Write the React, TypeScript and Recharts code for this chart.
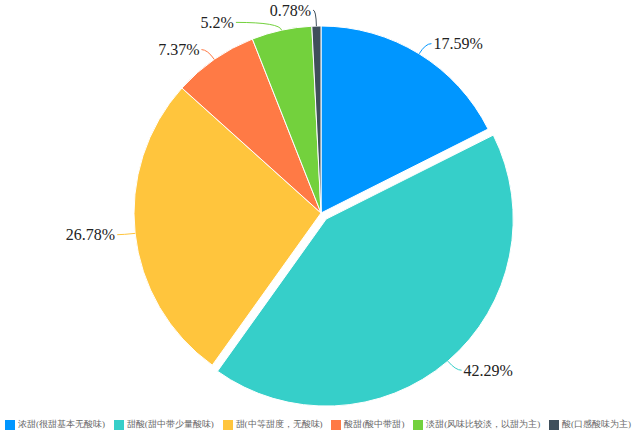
import { Pie, PieChart, Sector, Cell } from 'recharts'

const categories = [
  '浓甜(很甜基本无酸味)',
  '甜酸(甜中带少量酸味)',
  '甜(中等甜度，无酸味)',
  '酸甜(酸中带甜)',
  '淡甜(风味比较淡，以甜为主)',
  '酸(口感酸味为主)',
]
const shares = [17.59, 42.29, 26.78, 7.37, 5.2, 0.78]
const colors = ['#0096ff', '#36cfc9', '#ffc53d', '#ff7a45', '#73d13d', '#3f4f5b']

const data = categories.map((name, i) => ({ name, value: shares[i] }))

const RAD = Math.PI / 180
const EXPLODED = 1
const EXPLODE_OFFSET = 8
// label-line tweaks for the crowded slices at the top
const LINE_TWEAKS: Record<number, { len1: number; len2: number }> = {
  4: { len1: 8, len2: 44 },
  5: { len1: 16, len2: 3 },
}

function offsetFor(index: number, midAngle: number) {
  if (index !== EXPLODED) return { dx: 0, dy: 0 }
  return {
    dx: Math.cos(-midAngle * RAD) * EXPLODE_OFFSET,
    dy: Math.sin(-midAngle * RAD) * EXPLODE_OFFSET,
  }
}

function renderShape(props: any) {
  const { dx, dy } = offsetFor(props.index, props.midAngle)
  return <Sector {...props} cx={props.cx + dx} cy={props.cy + dy} />
}

function renderLabel(props: any) {
  const { cx, cy, midAngle, outerRadius, index, value } = props
  const { dx, dy } = offsetFor(index, midAngle)
  const tweak = LINE_TWEAKS[index] ?? { len1: 12, len2: 6 }
  const cos = Math.cos(-midAngle * RAD)
  const sin = Math.sin(-midAngle * RAD)
  const ox = cx + dx
  const oy = cy + dy
  const x0 = ox + outerRadius * cos
  const y0 = oy + outerRadius * sin
  const x1 = ox + (outerRadius + tweak.len1) * cos
  const y1 = oy + (outerRadius + tweak.len1) * sin
  const right = cos >= 0
  const x2 = x1 + (right ? tweak.len2 : -tweak.len2)
  const color = colors[index]
  return (
    <g>
      <path d={`M${x0},${y0} Q${x1},${y1} ${x2},${y1}`} stroke={color} fill="none" strokeWidth={1} />
      <text
        x={x2 + (right ? 2 : -2)}
        y={y1}
        textAnchor={right ? 'start' : 'end'}
        dominantBaseline="central"
        fill="#222"
        fontSize={16}
        fontFamily="'Liberation Serif', serif"
      >
        {`${value}%`}
      </text>
    </g>
  )
}

export default function App() {
  return (
    <div style={{ position: 'absolute', left: 0, top: 0, width: 636, height: 434, background: '#fff' }}>
      <PieChart width={636} height={410} margin={{ top: 0, right: 0, bottom: 0, left: 0 }}>
        <Pie
          data={data}
          dataKey="value"
          nameKey="name"
          cx={321}
          cy={213}
          outerRadius={187}
          startAngle={90}
          endAngle={-270}
          stroke="#fff"
          strokeWidth={1}
          shape={renderShape}
          label={renderLabel}
          labelLine={false}
          isAnimationActive={false}
        >
          {data.map((d, i) => (
            <Cell key={d.name} fill={colors[i]} />
          ))}
        </Pie>
      </PieChart>
      <div
        style={{
          position: 'absolute',
          left: 5,
          right: 5,
          top: 418,
          display: 'flex',
          justifyContent: 'space-between',
          alignItems: 'center',
          fontFamily: "'Liberation Serif', serif",
          fontSize: 9,
          color: '#666',
        }}
      >
        {categories.map((c, i) => (
          <div key={c} style={{ display: 'flex', alignItems: 'center', whiteSpace: 'nowrap' }}>
            <span style={{ display: 'inline-block', width: 10, height: 10, background: colors[i], marginRight: 3 }} />
            <span>{c}</span>
          </div>
        ))}
      </div>
    </div>
  )
}
